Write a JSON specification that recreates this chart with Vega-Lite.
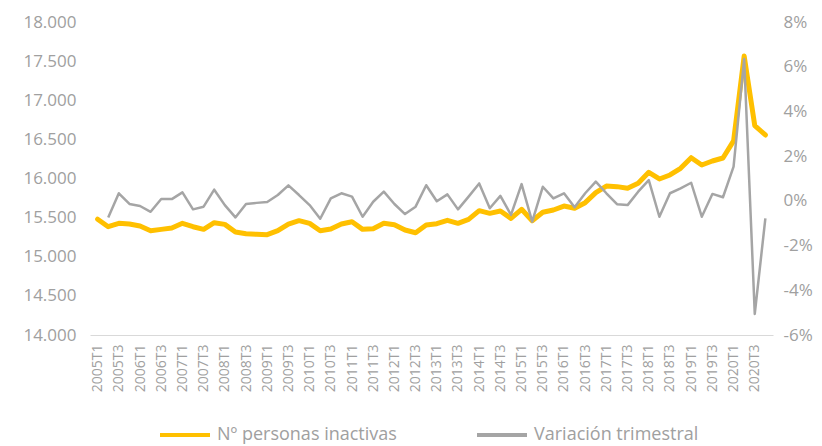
{
  "$schema": "https://vega.github.io/schema/vega-lite/v6.json",
  "width": 683,
  "height": 313,
  "autosize": {"type": "none"},
  "padding": {"left": 90, "top": 22, "right": 49, "bottom": 111},
  "config": {
    "view": {"stroke": null},
    "font": "Open Sans",
    "axis": {"grid": false, "ticks": false, "labelColor": "#a0a0a0", "labelFont": "Open Sans", "title": null}
  },
  "data": {
    "values": [
      {"q": "2005T1", "inactivos": 15480, "variacion": null},
      {"q": "2005T2", "inactivos": 15384, "variacion": -0.74},
      {"q": "2005T3", "inactivos": 15427, "variacion": 0.34},
      {"q": "2005T4", "inactivos": 15418, "variacion": -0.14},
      {"q": "2006T1", "inactivos": 15393, "variacion": -0.23},
      {"q": "2006T2", "inactivos": 15333, "variacion": -0.49},
      {"q": "2006T3", "inactivos": 15350, "variacion": 0.08},
      {"q": "2006T4", "inactivos": 15367, "variacion": 0.08},
      {"q": "2007T1", "inactivos": 15427, "variacion": 0.38},
      {"q": "2007T2", "inactivos": 15384, "variacion": -0.38},
      {"q": "2007T3", "inactivos": 15350, "variacion": -0.26},
      {"q": "2007T4", "inactivos": 15435, "variacion": 0.5},
      {"q": "2008T1", "inactivos": 15414, "variacion": -0.19},
      {"q": "2008T2", "inactivos": 15316, "variacion": -0.74},
      {"q": "2008T3", "inactivos": 15295, "variacion": -0.14},
      {"q": "2008T4", "inactivos": 15287, "variacion": -0.09},
      {"q": "2009T1", "inactivos": 15282, "variacion": -0.05},
      {"q": "2009T2", "inactivos": 15333, "variacion": 0.26},
      {"q": "2009T3", "inactivos": 15418, "variacion": 0.69},
      {"q": "2009T4", "inactivos": 15461, "variacion": 0.26},
      {"q": "2010T1", "inactivos": 15427, "variacion": -0.19},
      {"q": "2010T2", "inactivos": 15333, "variacion": -0.8},
      {"q": "2010T3", "inactivos": 15354, "variacion": 0.11},
      {"q": "2010T4", "inactivos": 15418, "variacion": 0.34},
      {"q": "2011T1", "inactivos": 15448, "variacion": 0.19},
      {"q": "2011T2", "inactivos": 15350, "variacion": -0.71},
      {"q": "2011T3", "inactivos": 15358, "variacion": -0.04},
      {"q": "2011T4", "inactivos": 15427, "variacion": 0.41},
      {"q": "2012T1", "inactivos": 15410, "variacion": -0.14},
      {"q": "2012T2", "inactivos": 15342, "variacion": -0.59},
      {"q": "2012T3", "inactivos": 15307, "variacion": -0.26},
      {"q": "2012T4", "inactivos": 15405, "variacion": 0.7},
      {"q": "2013T1", "inactivos": 15422, "variacion": -0.02},
      {"q": "2013T2", "inactivos": 15465, "variacion": 0.29},
      {"q": "2013T3", "inactivos": 15427, "variacion": -0.38},
      {"q": "2013T4", "inactivos": 15478, "variacion": 0.19},
      {"q": "2014T1", "inactivos": 15589, "variacion": 0.78},
      {"q": "2014T2", "inactivos": 15555, "variacion": -0.33},
      {"q": "2014T3", "inactivos": 15585, "variacion": 0.22},
      {"q": "2014T4", "inactivos": 15491, "variacion": -0.63},
      {"q": "2015T1", "inactivos": 15606, "variacion": 0.75},
      {"q": "2015T2", "inactivos": 15461, "variacion": -0.93},
      {"q": "2015T3", "inactivos": 15568, "variacion": 0.63},
      {"q": "2015T4", "inactivos": 15597, "variacion": 0.11},
      {"q": "2016T1", "inactivos": 15648, "variacion": 0.34},
      {"q": "2016T2", "inactivos": 15619, "variacion": -0.29},
      {"q": "2016T3", "inactivos": 15691, "variacion": 0.34},
      {"q": "2016T4", "inactivos": 15819, "variacion": 0.86},
      {"q": "2017T1", "inactivos": 15904, "variacion": 0.34},
      {"q": "2017T2", "inactivos": 15896, "variacion": -0.15},
      {"q": "2017T3", "inactivos": 15875, "variacion": -0.19},
      {"q": "2017T4", "inactivos": 15939, "variacion": 0.41},
      {"q": "2018T1", "inactivos": 16079, "variacion": 0.93},
      {"q": "2018T2", "inactivos": 15994, "variacion": -0.71},
      {"q": "2018T3", "inactivos": 16045, "variacion": 0.34},
      {"q": "2018T4", "inactivos": 16130, "variacion": 0.56},
      {"q": "2019T1", "inactivos": 16266, "variacion": 0.81},
      {"q": "2019T2", "inactivos": 16172, "variacion": -0.71},
      {"q": "2019T3", "inactivos": 16224, "variacion": 0.31},
      {"q": "2019T4", "inactivos": 16262, "variacion": 0.16},
      {"q": "2020T1", "inactivos": 16480, "variacion": 1.53},
      {"q": "2020T2", "inactivos": 17565, "variacion": 6.35},
      {"q": "2020T3", "inactivos": 16675, "variacion": -5.06},
      {"q": "2020T4", "inactivos": 16556, "variacion": -0.78}
    ]
  },
  "encoding": {
    "x": {
      "field": "q",
      "type": "nominal",
      "sort": null,
      "scale": {"type": "point", "padding": 0.72},
      "axis": {
        "values": ["2005T1","2005T3","2006T1","2006T3","2007T1","2007T3","2008T1","2008T3","2009T1","2009T3","2010T1","2010T3","2011T1","2011T3","2012T1","2012T3","2013T1","2013T3","2014T1","2014T3","2015T1","2015T3","2016T1","2016T3","2017T1","2017T3","2018T1","2018T3","2019T1","2019T3","2020T1","2020T3"],
        "labelAngle": -90,
        "labelFontSize": 14,
        "labelPadding": 9,
        "domainColor": "#d9d9d9",
        "domainWidth": 1
      }
    }
  },
  "layer": [
    {
      "mark": {"type": "line", "strokeWidth": 5, "strokeJoin": "round", "strokeCap": "round"},
      "encoding": {
        "y": {
          "field": "inactivos",
          "type": "quantitative",
          "scale": {"domain": [14000, 18000], "nice": false, "zero": false},
          "axis": {
            "orient": "left",
            "values": [14000, 14500, 15000, 15500, 16000, 16500, 17000, 17500, 18000],
            "labelExpr": "replace(format(datum.value, ','), ',', '.')",
            "labelFontSize": 17,
            "labelPadding": 14,
            "domain": false
          }
        },
        "color": {"datum": "Nº personas inactivas"}
      }
    },
    {
      "mark": {"type": "line", "strokeWidth": 2.5, "strokeJoin": "round"},
      "encoding": {
        "y": {
          "field": "variacion",
          "type": "quantitative",
          "scale": {"domain": [-6, 8], "nice": false, "zero": false},
          "axis": {
            "orient": "right",
            "values": [-6, -4, -2, 0, 2, 4, 6, 8],
            "labelExpr": "datum.value + '%'",
            "labelFontSize": 17,
            "labelPadding": 10,
            "domain": false
          }
        },
        "color": {
          "datum": "Variación trimestral",
          "scale": {"domain": ["Nº personas inactivas", "Variación trimestral"], "range": ["#FFC000", "#A5A5A5"]},
          "legend": {
            "title": null,
            "orient": "none",
            "direction": "horizontal",
            "legendX": 68,
            "legendY": 386,
            "symbolType": "stroke",
            "symbolSize": 2500,
            "symbolStrokeWidth": 4,
            "labelFontSize": 18,
            "labelColor": "#a0a0a0",
            "labelFont": "Open Sans",
            "labelOffset": 5,
            "columnPadding": 72,
            "labelLimit": 400
          }
        }
      }
    }
  ],
  "resolve": {"scale": {"y": "independent"}}
}
